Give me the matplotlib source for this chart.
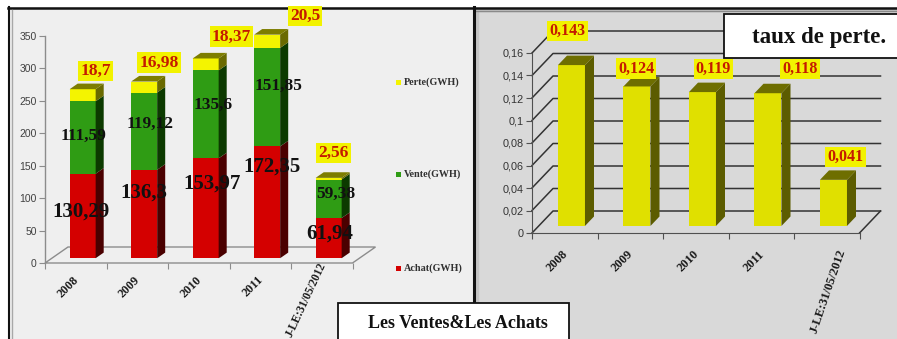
import matplotlib
matplotlib.use("Agg")
import matplotlib.pyplot as plt
import matplotlib.transforms as mtransforms
from matplotlib.patches import Polygon, Rectangle
from matplotlib.ticker import FuncFormatter

W, H, DPI = 897, 339, 100

# ---------------- data ----------------
categories = ["2008", "2009", "2010", "2011", "J-LE:31/05/2012"]
achat = [130.29, 136.3, 153.97, 172.35, 61.94]      # GWH
vente = [111.59, 119.12, 135.6, 151.85, 59.38]      # GWH
perte = [18.7, 16.98, 18.37, 20.5, 2.56]            # GWH
taux_perte = [0.143, 0.124, 0.119, 0.118, 0.041]

left_yticks = [0, 50, 100, 150, 200, 250, 300, 350]
right_yticks = [0, 0.02, 0.04, 0.06, 0.08, 0.1, 0.12, 0.14, 0.16]

# ---------------- styling ----------------
SERIF = "Liberation Serif"
SANS = "Liberation Sans"
LABEL_RED = "#c41a00"
LABEL_BG = "#f2f200"

# label nudges in pixels (dx, dy up) relative to the face they describe
achat_off = [(-2, 4), (0, 21), (6, 25), (5, 36), (1, 5)]
vente_off = [(1, 2), (6, 7), (7, 9), (11, 11), (7, 5)]
perte_off = [(13, 18), (15, 19), (26, 22), (38, 19), (5, 25)]
taux_off = [(-4, 34), (-1, 18), (11, 23), (32, 24), (12, 23)]


def fr(x0, y0, x1, y1):
    """pixel box (top-left origin) -> figure fraction rect"""
    return [x0 / W, 1 - y1 / H, (x1 - x0) / W, (y1 - y0) / H]


def fmt(v):
    return f"{v:g}".replace(".", ",")


fig = plt.figure(figsize=(W / DPI, H / DPI), dpi=DPI)

# ---------------- background frames ----------------
bg = fig.add_axes([0, 0, 1, 1], zorder=0)
bg.set_xlim(0, W)
bg.set_ylim(H, 0)
bg.axis("off")
bg.add_patch(Rectangle((8, 7), 466, 340, fc="#efefef", ec="none"))
bg.add_patch(Rectangle((477, 10), 430, 340, fc="#d9d9d9", ec="#c4c4c4", lw=2.5))
bg.plot([8, W], [7.5, 7.5], color="#111111", lw=1.8)
bg.plot([476, W], [10.5, 10.5], color="#8a8a8a", lw=1.0)
bg.plot([8.5, 8.5], [7, H], color="#111111", lw=1.5)
bg.plot([11.5, 11.5], [10, H], color="#a8a8a8", lw=1.0)
bg.plot([474, 474], [7, 303], color="#111111", lw=2.2)


def bar3d(ax, x, y0, y1, width, kx, ky, dvec, f, b, front, side, top=None, z=3):
    """Front face through ax.bar, side/top faces as projected polygons."""
    fdx, fdy = f * dvec[0], f * dvec[1]
    bdx, bdy = b * dvec[0], b * dvec[1]
    tr = ax.transData + mtransforms.ScaledTranslation(fdx / DPI, fdy / DPI, fig.dpi_scale_trans)
    ax.bar(x, y1 - y0, bottom=y0, width=width, color=front, transform=tr,
           clip_on=False, zorder=z, linewidth=0)
    fx, fy = fdx / kx, fdy / ky
    bx, by = bdx / kx, bdy / ky
    xr = x + width / 2
    xl = x - width / 2
    ax.add_patch(Polygon([(xr + fx, y0 + fy), (xr + bx, y0 + by),
                          (xr + bx, y1 + by), (xr + fx, y1 + fy)],
                         closed=True, fc=side, ec="none", clip_on=False, zorder=z))
    if top is not None:
        ax.add_patch(Polygon([(xl + fx, y1 + fy), (xr + fx, y1 + fy),
                              (xr + bx, y1 + by), (xl + bx, y1 + by)],
                             closed=True, fc=top, ec="none", clip_on=False, zorder=z))
    return x + fx, fy


def style_xlabels(ax, shift, rot, size, rot_long, shift_long, size_long):
    for i, lab in enumerate(ax.get_xticklabels(minor=True)):
        last = i == len(categories) - 1
        dx, dy = shift_long if last else shift
        offset = mtransforms.ScaledTranslation(dx / DPI, dy / DPI, fig.dpi_scale_trans)
        lab.set_rotation(rot_long if last else rot)
        lab.set_rotation_mode("anchor")
        lab.set_ha("right")
        lab.set_va("center")
        lab.set_fontfamily(SERIF)
        lab.set_fontweight("bold")
        lab.set_fontsize(size_long if last else size)
        lab.set_color("#1a1a1a")
        lab.set_transform(lab.get_transform() + offset)


# ---------------- left chart: stacked GWH ----------------
axL = fig.add_axes(fr(45, 36, 352.5, 263), zorder=2)
axL.set_facecolor("none")
axL.set_xlim(0, 5)
axL.set_ylim(0, 350)
for s in ("top", "right", "bottom"):
    axL.spines[s].set_visible(False)
axL.spines["left"].set_color("#8c8c8c")
axL.spines["left"].set_linewidth(1.0)
axL.set_yticks(left_yticks)
axL.tick_params(axis="y", direction="out", length=4, width=0.8, color="#8c8c8c",
                labelsize=7.5, labelcolor="#404040", pad=2)
for t in axL.get_yticklabels():
    t.set_fontfamily(SANS)
axL.set_xticks(range(6))
axL.set_xticklabels([])
axL.tick_params(axis="x", which="major", direction="out", length=4, width=0.8, color="#8c8c8c")
axL.set_xticks([i + 0.5 for i in range(5)], categories, minor=True)
axL.tick_params(axis="x", which="minor", length=0, pad=11)
style_xlabels(axL, (1, 0), 45, 8.8, 65, (1, 15), 8.3)

kxL, kyL = 61.5, 227 / 350
dL = (23, 16)
floor = [(0, 0), (5, 0), (5 + dL[0] / kxL, dL[1] / kyL), (dL[0] / kxL, dL[1] / kyL)]
axL.add_patch(Polygon(floor, closed=True, fc="none", ec="#8c8c8c", lw=1.0,
                      clip_on=False, zorder=1))

wL = 26 / kxL
for i in range(5):
    x = i + 0.5
    a0, a1 = 0, achat[i]
    v1 = a1 + vente[i]
    p1 = v1 + perte[i]
    bar3d(axL, x, a0, a1, wL, kxL, kyL, dL, 0.3, 0.65, "#d40000", "#4a0000")
    bar3d(axL, x, a1, v1, wL, kxL, kyL, dL, 0.3, 0.65, "#2f9c14", "#0c3a00")
    xc, fy = bar3d(axL, x, v1, p1, wL, kxL, kyL, dL, 0.3, 0.65, "#f4f400", "#6a6a00", "#7d7d00")
    axL.annotate(fmt(achat[i]), (xc, a1 / 2 + fy), xytext=achat_off[i],
                 textcoords="offset pixels", ha="center", va="center",
                 fontfamily=SERIF, fontweight="bold", fontsize=15, color="#111111",
                 zorder=6, annotation_clip=False)
    axL.annotate(fmt(vente[i]), (xc, a1 + vente[i] / 2 + fy), xytext=vente_off[i],
                 textcoords="offset pixels", ha="center", va="center",
                 fontfamily=SERIF, fontweight="bold", fontsize=12.5, color="#111111",
                 zorder=6, annotation_clip=False)
    axL.annotate(fmt(perte[i]), (xc, p1 + fy), xytext=perte_off[i],
                 textcoords="offset pixels", ha="center", va="center",
                 fontfamily=SERIF, fontweight="bold", fontsize=12.5, color=LABEL_RED,
                 bbox=dict(boxstyle="square,pad=0.12", fc=LABEL_BG, ec="none"),
                 zorder=6, annotation_clip=False)

# legend entries (Perte on top, Achat at the bottom)
legend_items = [("Perte(GWH)", "#f4f400", 82), ("Vente(GWH)", "#2f9c14", 174),
                ("Achat(GWH)", "#d40000", 268)]
for name, col, ypx in legend_items:
    bg.add_patch(Rectangle((396, ypx - 2.5), 5, 5, fc=col, ec="none"))
    bg.text(403.5, ypx, name, ha="left", va="center", fontfamily=SERIF,
            fontweight="bold", fontsize=7.3, color="#303030")

# ---------------- right chart: taux de perte ----------------
axR = fig.add_axes(fr(532, 53, 859.5, 233), zorder=2)
axR.set_facecolor("none")
axR.set_xlim(0, 5)
axR.set_ylim(0, 0.16)
for s in ("top", "right"):
    axR.spines[s].set_visible(False)
axR.spines["left"].set_color("#505050")
axR.spines["bottom"].set_color("#505050")
axR.set_yticks(right_yticks)
axR.yaxis.set_major_formatter(FuncFormatter(lambda v, p: fmt(round(v, 3))))
axR.tick_params(axis="y", direction="out", length=4, width=0.8, color="#505050",
                labelsize=7.8, labelcolor="#333333", pad=2)
for t in axR.get_yticklabels():
    t.set_fontfamily(SANS)
axR.set_xticks(range(6))
axR.set_xticklabels([])
axR.tick_params(axis="x", which="major", direction="out", length=4, width=0.8, color="#505050")
axR.set_xticks([i + 0.5 for i in range(5)], categories, minor=True)
axR.tick_params(axis="x", which="minor", length=0, pad=14)
style_xlabels(axR, (1, 0), 45, 9, 71, (16, 3), 9)

kxR, kyR = 65.5, 180 / 0.16
dR = (21, 22)
gx, gy = dR[0] / kxR, dR[1] / kyR
for v in right_yticks:
    axR.plot([0, gx, 5 + gx], [v, v + gy, v + gy], color="#333333", lw=1.1,
             clip_on=False, zorder=1)
axR.plot([5, 5 + gx], [0, gy], color="#333333", lw=1.1, clip_on=False, zorder=1)

wR = 27 / kxR
for i in range(5):
    xc, fy = bar3d(axR, i + 0.5, 0, taux_perte[i], wR, kxR, kyR, dR, 0.32, 0.75,
                   "#e0e000", "#5c5c00", "#6e6e00")
    axR.annotate(fmt(taux_perte[i]), (xc, taux_perte[i] + fy), xytext=taux_off[i],
                 textcoords="offset pixels", ha="center", va="center",
                 fontfamily=SERIF, fontweight="bold", fontsize=11.5, color=LABEL_RED,
                 bbox=dict(boxstyle="square,pad=0.14", fc=LABEL_BG, ec="none"),
                 zorder=6, annotation_clip=False)

# ---------------- title boxes ----------------
ov = fig.add_axes([0, 0, 1, 1], zorder=5)
ov.set_xlim(0, W)
ov.set_ylim(H, 0)
ov.axis("off")
ov.add_patch(Rectangle((338, 303), 231, 45, fc="white", ec="#111111", lw=1.3))
ov.text(458, 323.5, "Les Ventes&Les Achats", ha="center", va="center",
        fontfamily=SERIF, fontweight="bold", fontsize=13, color="#111111")
ov.add_patch(Rectangle((724, 14), 190, 44, fc="white", ec="#111111", lw=1.3))
ov.text(819, 38, "taux de perte.", ha="center", va="center",
        fontfamily=SERIF, fontweight="bold", fontsize=16.5, color="#111111")

fig.savefig("out.png", dpi=DPI)
